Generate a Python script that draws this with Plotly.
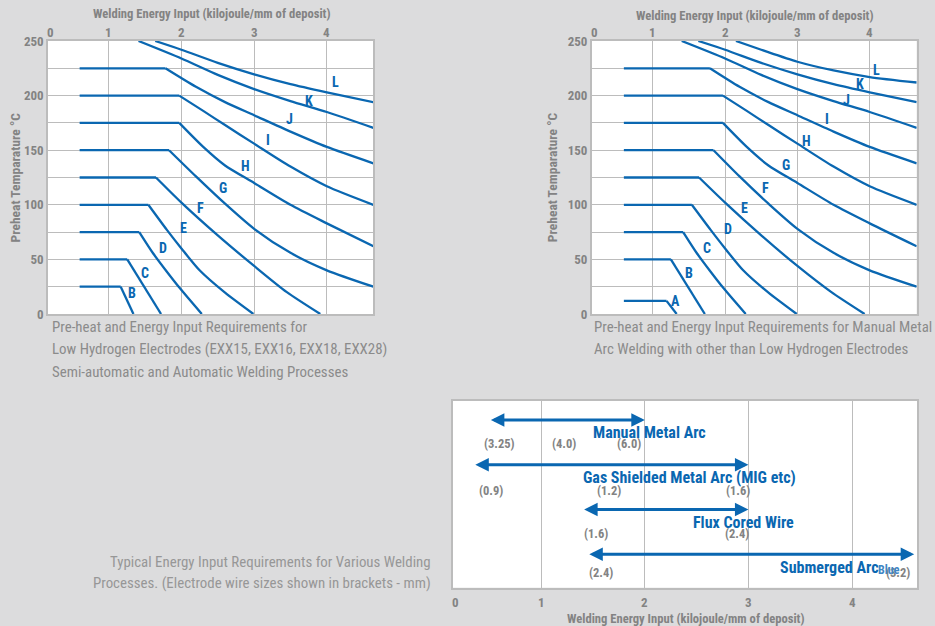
import plotly.graph_objects as go

# ---------------- data ----------------
x_tick_vals = [0.2, 1, 2, 3, 4]
x_tick_text = ["0", "1", "2", "3", "4"]
x_grid_vals = [1, 2, 3, 4]
temp_tick_vals = [0, 25, 50, 75, 100, 125, 150, 175, 200, 225, 250]
temp_tick_text = ["0", "", "50", "", "100", "", "150", "", "200", "", "250"]

# Chart 1 : low hydrogen electrodes
lh_names = ["B", "C", "D", "E", "F", "G", "H", "I", "J", "K", "L"]
lh_flat_start = [0.6, 0.6, 0.6, 0.6, 0.6, 0.6, 0.6, 0.6, 0.6, None, None]
lh_curve_x = [
    [1.165, 1.34],
    [1.255, 1.72],
    [1.42, 1.61, 1.80, 1.98, 2.28],
    [1.545, 1.8, 2.0, 2.25, 2.6, 2.99],
    [1.65, 2.0, 2.5, 3.0, 3.45, 3.91],
    [1.83, 2.2, 2.6, 3.0, 3.5, 4.0, 4.64],
    [1.97, 2.3, 2.6, 3.0, 3.5, 4.0, 4.64],
    [1.97, 2.3, 2.6, 3.0, 3.5, 4.0, 4.64],
    [1.78, 2.2, 2.6, 3.0, 3.5, 4.0, 4.64],
    [1.41, 2.0, 2.5, 3.0, 3.5, 4.0, 4.64],
    [1.64, 2.0, 2.5, 3.0, 3.5, 4.0, 4.64],
]
lh_curve_y = [
    [25, 0],
    [50, 0],
    [75, 55.6, 38.7, 23.5, 0],
    [100, 77, 60, 40, 19.5, 0],
    [125, 102, 72, 44, 20, 0],
    [150, 126, 101, 78, 56, 40, 25],
    [175, 153, 136, 120, 100, 83, 62],
    [200, 186, 173, 156, 135, 117, 100],
    [225, 208, 194, 182, 167, 153, 138],
    [250, 234, 219, 206, 195, 185, 170.5],
    [250, 242, 230, 219.5, 210.5, 203, 194],
]
lh_label_x = [1.32, 1.50, 1.74, 2.03, 2.26, 2.57, 2.88, 3.19, 3.48, 3.76, 4.12]
lh_label_y = [19.5, 37.2, 60.1, 78.4, 96.7, 115, 135.7, 159.2, 179, 195.2, 212.5]

# Chart 2 : manual metal arc, other than low hydrogen electrodes
ma_names = ["A", "B", "C", "D", "E", "F", "G", "H", "I", "J", "K", "L"]
ma_flat_start = [0.6, 0.6, 0.6, 0.6, 0.6, 0.6, 0.6, 0.6, 0.6, None, None, None]
ma_curve_x = [
    [1.19, 1.33],
    [1.25, 1.72],
    [1.42, 1.61, 1.80, 1.98, 2.285],
    [1.54, 1.8, 2.0, 2.25, 2.6, 2.99],
    [1.64, 2.0, 2.5, 3.0, 3.47, 3.93],
    [1.84, 2.2, 2.6, 3.0, 3.5, 4.0, 4.65],
    [1.97, 2.3, 2.6, 3.0, 3.5, 4.0, 4.65],
    [1.97, 2.3, 2.6, 3.0, 3.5, 4.0, 4.65],
    [1.79, 2.2, 2.6, 3.0, 3.5, 4.0, 4.65],
    [1.40, 2.0, 2.5, 3.0, 3.5, 4.0, 4.65],
    [1.63, 2.0, 2.5, 3.0, 3.5, 4.0, 4.65],
    [2.15, 2.5, 3.0, 3.5, 4.0, 4.65],
]
ma_curve_y = [
    [12, 0],
    [50, 0],
    [75, 55.6, 38.7, 23.5, 0],
    [100, 77, 60, 40, 19.5, 0],
    [125, 102, 72, 44, 20, 0],
    [150, 126, 101, 78, 56, 40, 25],
    [175, 153, 136, 120, 100, 83, 62],
    [200, 186, 173, 156, 135, 117, 100],
    [225, 208, 194, 182, 167, 153, 138],
    [250, 234, 219, 206, 195, 185, 170.5],
    [250, 242, 230, 219.5, 210.5, 203, 194],
    [250, 242, 231, 223, 217, 212],
]
ma_label_x = [1.31, 1.50, 1.745, 2.04, 2.27, 2.56, 2.84, 3.13, 3.41, 3.68, 3.87, 4.10]
ma_label_y = [11.9, 37.2, 60.1, 77.8, 96.7, 115, 136.3, 158.3, 179, 196.4, 210.4, 223.9]

# Chart 3 : typical energy input per process
processes = ["Manual Metal Arc", "Gas Shielded Metal Arc (MIG etc)",
             "Flux Cored Wire", "Submerged Arc"]
proc_start = [0.5, 0.35, 1.4, 1.45]
proc_end = [2.0, 3.0, 3.0, 4.6]
proc_label_x = [2.045, 2.43, 2.95, 3.775]
wire_sizes = [["(3.25)", "(4.0)", "(6.0)"], ["(0.9)", "(1.2)", "(1.6)"],
              ["(1.6)", "(2.4)"], ["(2.4)", "(3.2)"]]
wire_size_x = [[0.60, 1.22, 1.85], [0.52, 1.65, 2.90], [1.53, 2.89], [1.58, 4.44]]

# ---------------- styling ----------------
W, H = 935, 626
BG = "#dcdcdd"
GRID = "#bcbcbc"
BLUE = "#0a67b1"
TICK_GRAY = "#838383"
CAP_GRAY = "#8b8b8b"
FONT = "Roboto Condensed, DejaVu Sans Condensed, Liberation Sans Narrow, Roboto, sans-serif"

def px_x(p):
    return p / W

def px_y(p):
    return 1 - p / H

fig = go.Figure()

def add_curves(names, flat_start, cx, cy, xa, ya):
    for n, fs, xs, ys in zip(names, flat_start, cx, cy):
        if fs is not None:
            fig.add_trace(go.Scatter(x=[fs, xs[0]], y=[ys[0], ys[0]], mode="lines",
                                     line=dict(color=BLUE, width=2.3),
                                     xaxis=xa, yaxis=ya, hoverinfo="skip", name=n))
        fig.add_trace(go.Scatter(x=xs, y=ys, mode="lines",
                                 line=dict(color=BLUE, width=2.3, shape="spline", smoothing=0.7),
                                 xaxis=xa, yaxis=ya, hoverinfo="skip", name=n))

add_curves(lh_names, lh_flat_start, lh_curve_x, lh_curve_y, "x", "y")
add_curves(ma_names, ma_flat_start, ma_curve_x, ma_curve_y, "x2", "y2")

# invisible trace to activate bottom axes
fig.add_trace(go.Scatter(x=[1], y=[0], mode="markers", marker=dict(opacity=0),
                         xaxis="x3", yaxis="y3", hoverinfo="skip"))

tickfont = dict(family=FONT, size=13, color=TICK_GRAY, weight="bold")

def energy_axis(domain, rng, anchor):
    return dict(domain=domain, range=rng, anchor=anchor, automargin=False,
                tickmode="array", tickvals=x_grid_vals, showticklabels=False,
                showgrid=True, gridcolor=GRID, gridwidth=1.3, zeroline=False, ticks="",
                showline=True, mirror=True, linecolor=GRID, linewidth=1.5,
                fixedrange=True)

def temp_axis(domain, anchor):
    return dict(domain=domain, range=[0, 250], anchor=anchor, automargin=False,
                tickmode="array", tickvals=temp_tick_vals, ticktext=temp_tick_text,
                showgrid=True, gridcolor=GRID, gridwidth=1.3, zeroline=False, ticks="",
                showline=True, mirror=True, linecolor=GRID, linewidth=1.5,
                tickfont=tickfont, fixedrange=True)

top_dom = [px_y(314), px_y(41)]
fig.update_layout(
    xaxis=energy_axis([px_x(48), px_x(373)], [0.165, 4.635], "y"),
    yaxis=temp_axis(top_dom, "x"),
    xaxis2=energy_axis([px_x(591.7), px_x(916.7)], [0.155, 4.65], "y2"),
    yaxis2=temp_axis(top_dom, "x2"),
    xaxis3=energy_axis([px_x(452.7), px_x(917.3)], [0.146, 4.63], "y3"),
    yaxis3=dict(domain=[px_y(587.7), px_y(401)], range=[3.745, -0.424], anchor="x3",
                automargin=False, showticklabels=False, showgrid=False, zeroline=False,
                ticks="", showline=True, mirror=True, linecolor=GRID, linewidth=1.5,
                fixedrange=True),
)

ann = []

def note(**kw):
    base = dict(showarrow=False, xanchor="center", yanchor="middle")
    base.update(kw)
    ann.append(base)

# energy tick labels (top of the two upper charts, bottom of the lower chart)
for v, t in zip(x_tick_vals, x_tick_text):
    note(x=v, y=px_y(33), xref="x", yref="paper", text=t, font=tickfont)
    note(x=v, y=px_y(33), xref="x2", yref="paper", text=t, font=tickfont)
    note(x=v if v > 0.5 else 0.17, y=px_y(602), xref="x3", yref="paper", text=t, font=tickfont)

# curve labels
lab_font = dict(family=FONT, size=14, color=BLUE, weight="bold")
for n, lx, ly in zip(lh_names, lh_label_x, lh_label_y):
    note(x=lx, y=ly, xref="x", yref="y", text=n, font=lab_font)
for n, lx, ly in zip(ma_names, ma_label_x, ma_label_y):
    note(x=lx, y=ly, xref="x2", yref="y2", text=n, font=lab_font)

title_font = dict(family=FONT, size=12.6, color=TICK_GRAY, weight="bold")
xtitle = "Welding Energy Input (kilojoule/mm of deposit)"
ytitle = "Preheat Temparature \u00b0C"
note(x=px_x(211.7), y=px_y(14), xref="paper", yref="paper", text=xtitle, font=title_font)
note(x=px_x(755), y=px_y(15), xref="paper", yref="paper", text=xtitle, font=title_font)
note(x=px_x(685.7), y=px_y(618), xref="paper", yref="paper", text=xtitle, font=title_font)
note(x=px_x(15), y=px_y(177.5), xref="paper", yref="paper", text=ytitle,
     textangle=-90, font=dict(title_font, size=13.5))
note(x=px_x(552.7), y=px_y(177.5), xref="paper", yref="paper", text=ytitle,
     textangle=-90, font=dict(title_font, size=13.5))

# captions
cap_font = dict(family=FONT, size=14.9, color=CAP_GRAY)
left_caption = ["Pre-heat and Energy Input Requirements for",
                "Low Hydrogen Electrodes (EXX15, EXX16, EXX18, EXX28)",
                "Semi-automatic and Automatic Welding Processes"]
right_caption = ["Pre-heat and Energy Input Requirements for Manual Metal",
                 "Arc Welding with other than Low Hydrogen Electrodes"]
bottom_caption = ["Typical Energy Input Requirements for Various Welding",
                  "Processes. (Electrode wire sizes shown in brackets - mm)"]
for i, t in enumerate(left_caption):
    note(x=px_x(50), y=px_y(327 + 22.5 * i), xref="paper", yref="paper", text=t,
         xanchor="left", font=cap_font)
for i, t in enumerate(right_caption):
    note(x=px_x(592), y=px_y(327 + 22.5 * i), xref="paper", yref="paper", text=t,
         xanchor="left", font=cap_font)
for i, t in enumerate(bottom_caption):
    note(x=px_x(433), y=px_y(562 + 21 * i), xref="paper", yref="paper", text=t,
         xanchor="right", font=dict(cap_font, color="#979797"))

# process arrows and labels
size_offsets = [-24, -25.5, -24, -18.5]
for row, (p, s, e, lx) in enumerate(zip(processes, proc_start, proc_end, proc_label_x)):
    ann.append(dict(x=e, y=row, ax=s, ay=row, xref="x3", yref="y3", axref="x3", ayref="y3",
                    text="", showarrow=True, arrowhead=2, startarrowhead=2,
                    arrowside="end+start", arrowwidth=3, arrowsize=0.9, startarrowsize=0.9,
                    arrowcolor=BLUE))
    note(x=lx, y=row, xref="x3", yref="y3", yshift=-13, text=p,
         font=dict(family=FONT, size=16, color=BLUE, weight="bold"))
    for t, wx in zip(wire_sizes[row], wire_size_x[row]):
        note(x=wx, y=row, xref="x3", yref="y3", yshift=size_offsets[row], text=t,
             font=dict(family=FONT, size=12.5, color=TICK_GRAY, weight="bold"))
note(x=4.357, y=3, xref="x3", yref="y3", yshift=-16, text="Blue",
     font=dict(family=FONT, size=12, color="#3f86c4", weight="bold"))

fig.update_layout(
    width=W, height=H, margin=dict(l=0, r=0, t=0, b=0, autoexpand=False),
    paper_bgcolor=BG, plot_bgcolor="white", showlegend=False,
    annotations=ann, font=dict(family=FONT),
)

fig.write_html("out.html", config={"displayModeBar": False},
               post_script="document.body.style.margin='0';document.body.style.background='#dcdcdd';")
